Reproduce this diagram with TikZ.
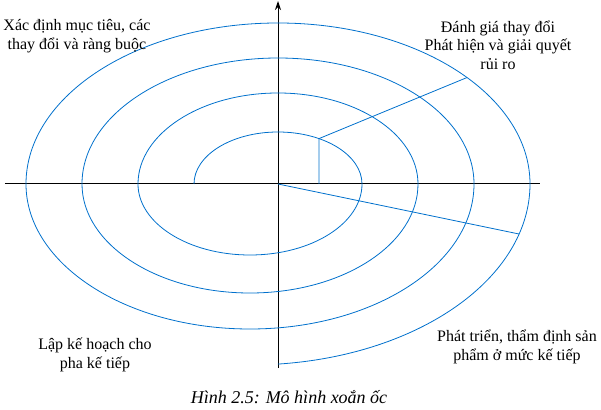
\documentclass[tikz,border=0pt]{standalone}
\usepackage{fontspec}
\setmainfont{Liberation Serif}
\usetikzlibrary{arrows.meta}
\definecolor{spiral}{RGB}{0,112,204}
\begin{document}
\begin{tikzpicture}[x=1pt,y=1pt,font=\fontsize{16}{18.5}\selectfont,
  turn/.style={draw=spiral,line width=.8pt}]
\useasboundingbox (-278,-225) rectangle (323,184);
\coordinate (O) at (0,0);
\draw[line width=1pt] (-273,0) -- (262,0);
\draw[line width=1pt,-{Stealth[length=9pt,width=6pt]}] (0,-184) -- (0,183);
% spiral: upper halves round O, lower halves shifted left
\draw[turn] (-84,0)
 \foreach \a/\b/\c in {84/52/71,140/91/109,196/126/145}
 { arc[start angle=180,end angle=0,x radius=\a,y radius=\b]
   arc[start angle=0,end angle=-180,x radius=\a+28,y radius=\c] }
 arc[start angle=180,end angle=0,x radius=252,y radius=161]
 arc[start angle=0,end angle=-84.3,x radius=280,y radius=181];
\coordinate (p0) at (41,0);
\coordinate (p1) at (60.8:84 and 52);
\coordinate (p2) at (41.4:252 and 161);
\coordinate (p3) at (241,-50);
\draw[turn] (p0) -- (p1) -- (p2);
\draw[turn] (O) -- (p3);
\node at(-201,148)[align=center](goal){Xác định mục tiêu, các\\thay đổi và ràng buộc};
\node at(220,139)[align=center](risk){Đánh giá thay đổi\\Phát hiện và giải quyết\\rủi ro};
\node at(-183,-171)[align=center](plan){Lập kế hoạch cho\\pha kế tiếp};
\node at(239,-163)[align=center](dev){Phát triển, thẩm định sản\\phẩm ở mức kế tiếp};
\node at(11,-213)[font=\fontsize{18}{20}\selectfont\itshape](cap){Hình 2.5: Mô hình xoắn ốc};
\end{tikzpicture}
\end{document}
